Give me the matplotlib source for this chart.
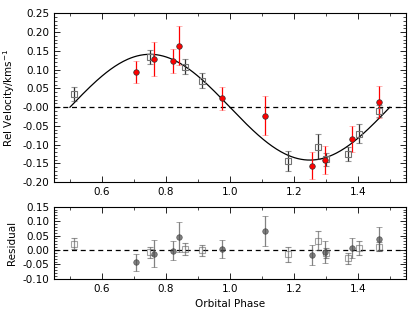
import numpy as np
import matplotlib
matplotlib.use('Agg')
import matplotlib.pyplot as plt
from matplotlib.ticker import AutoMinorLocator

# red points (filled circles)
phase_r = [0.707, 0.762, 0.821, 0.841, 0.976, 1.109, 1.258, 1.297, 1.383, 1.465]
vel_r = [0.094, 0.129, 0.123, 0.164, 0.024, -0.023, -0.156, -0.141, -0.084, 0.014]
err_r = [0.030, 0.046, 0.033, 0.052, 0.031, 0.052, 0.036, 0.038, 0.035, 0.042]
res_r = [-0.042, -0.012, -0.002, 0.045, 0.005, 0.067, -0.017, -0.008, 0.007, 0.039]

# grey points (open squares)
phase_s = [0.514, 0.751, 0.861, 0.914, 1.182, 1.274, 1.300, 1.370, 1.402, 1.467]
vel_s = [0.035, 0.134, 0.108, 0.071, -0.143, -0.105, -0.139, -0.125, -0.071, -0.011]
err_s = [0.019, 0.018, 0.020, 0.019, 0.027, 0.033, 0.018, 0.019, 0.025, 0.016]
res_s = [0.021, -0.008, 0.003, -0.001, -0.015, 0.032, -0.010, -0.028, 0.007, 0.012]

# fitted model
K = 0.141
ph = np.linspace(0.5, 1.5, 300)
model = K * np.sin(2 * np.pi * (ph - 0.5))

plt.rcParams['font.size'] = 7.5
plt.rcParams['xtick.direction'] = 'in'
plt.rcParams['ytick.direction'] = 'in'

fig = plt.figure(figsize=(4.15, 3.12), dpi=100)
ax1 = fig.add_axes([0.130, 0.416, 0.848, 0.541])
ax2 = fig.add_axes([0.130, 0.106, 0.848, 0.2315])

# top panel
ax1.plot(ph, model, color='k', lw=0.9)
ax1.axhline(0, color='k', ls='--', lw=0.9, dashes=(4, 3))
eb = ax1.errorbar(phase_s, vel_s, yerr=err_s, fmt='s', ms=4, mfc='none',
                  mec='0.45', mew=0.8, ecolor='0.2', elinewidth=0.9,
                  capsize=2, capthick=0.8)
for c in eb[1]:
    c.set_alpha(0.5)
eb = ax1.errorbar(phase_r, vel_r, yerr=err_r, fmt='o', ms=4, mfc='red',
                  mec='0.2', mew=0.5, ecolor='red', elinewidth=0.9,
                  capsize=2, capthick=0.8)
for c in eb[1]:
    c.set_alpha(0.4)
ax1.set_xlim(0.45, 1.55)
ax1.set_ylim(-0.20, 0.25)
ax1.set_yticks(np.arange(-0.20, 0.26, 0.05))
ax1.set_xticks([0.6, 0.8, 1.0, 1.2, 1.4])
ax1.set_ylabel('Rel Velocity/kms$^{-1}$')

# residual panel
ax2.axhline(0, color='k', ls='--', lw=0.9, dashes=(4, 3))
eb = ax2.errorbar(phase_s, res_s, yerr=err_s, fmt='s', ms=4, mfc='none',
                  mec='0.4', mew=0.8, ecolor='0.3', elinewidth=0.9,
                  capsize=2, capthick=0.8, alpha=0.6)
eb = ax2.errorbar(phase_r, res_r, yerr=err_r, fmt='o', ms=4, mfc='0.3',
                  mec='0.2', mew=0.5, ecolor='0.3', elinewidth=0.9,
                  capsize=2, capthick=0.8, alpha=0.7)
ax2.set_xlim(0.45, 1.55)
ax2.set_ylim(-0.10, 0.15)
ax2.set_yticks(np.arange(-0.10, 0.16, 0.05))
ax2.set_xticks([0.6, 0.8, 1.0, 1.2, 1.4])
ax2.set_ylabel('Residual')
ax2.set_xlabel('Orbital Phase')

for ax in (ax1, ax2):
    ax.xaxis.set_minor_locator(AutoMinorLocator(2))
    ax.yaxis.set_minor_locator(AutoMinorLocator(5))
    ax.tick_params(which='both', top=True, right=True)
    ax.tick_params(which='major', length=4, width=0.6)
    ax.tick_params(which='minor', length=2, width=0.5)
    for s in ax.spines.values():
        s.set_linewidth(0.8)
    ax.yaxis.set_major_formatter(matplotlib.ticker.FormatStrFormatter('%.2f'))

plt.savefig('out.png', dpi=100)
